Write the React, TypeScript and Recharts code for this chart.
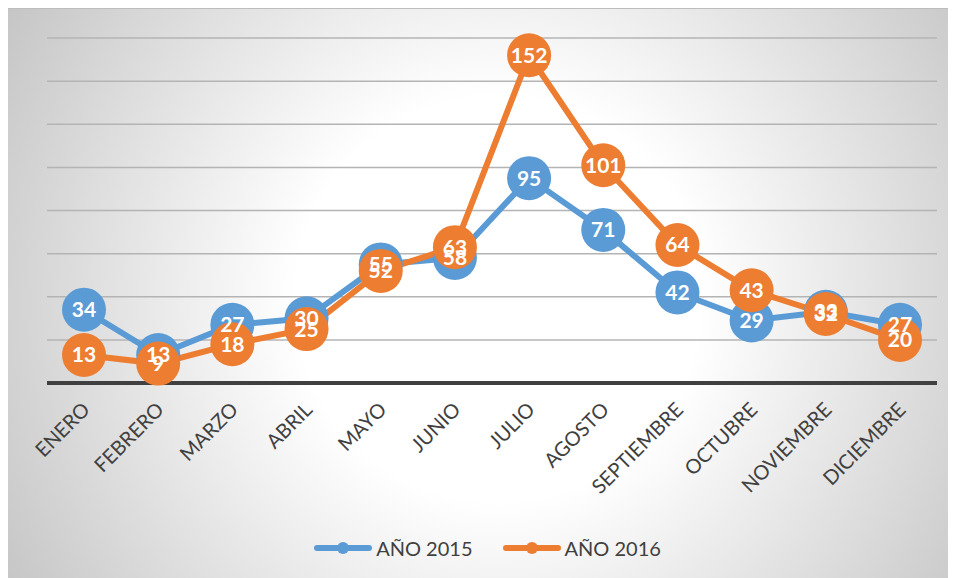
import React from "react";
import { LineChart, Line, XAxis, YAxis, CartesianGrid, LabelList } from "recharts";

const months = ["ENERO", "FEBRERO", "MARZO", "ABRIL", "MAYO", "JUNIO", "JULIO", "AGOSTO", "SEPTIEMBRE", "OCTUBRE", "NOVIEMBRE", "DICIEMBRE"];
const values2015 = [34, 13, 27, 30, 55, 58, 95, 71, 42, 29, 33, 27];
const values2016 = [13, 9, 18, 25, 52, 63, 152, 101, 64, 43, 32, 20];
const yTicks = [0, 20, 40, 60, 80, 100, 120, 140, 160];
const seriesNames = ["AÑO 2015", "AÑO 2016"];

const BLUE = "#5b9bd5";
const ORANGE = "#ed7d31";
const FONT = "Lato, 'Open Sans', sans-serif";

const data = months.map((m, i) => ({ month: m, a: values2015[i], b: values2016[i] }));

const Tick = (props: any) => {
  const { x, y, payload } = props;
  return (
    <g transform={`translate(${x + 7},${y + 20}) rotate(-45)`}>
      <text x={0} y={0} textAnchor="end" fontSize={20} fill="#404040" fontFamily={FONT}>
        {payload.value}
      </text>
    </g>
  );
};

const LegendItem = ({ color, label }: { color: string; label: string }) => (
  <div style={{ display: "flex", alignItems: "center", marginRight: 30 }}>
    <svg width={58} height={14} style={{ marginRight: 4 }}>
      <line x1={3} y1={7} x2={55} y2={7} stroke={color} strokeWidth={6} strokeLinecap="round" />
      <circle cx={29} cy={7} r={6} fill={color} />
    </svg>
    <span style={{ fontSize: 20, color: "#404040", fontFamily: FONT }}>{label}</span>
  </div>
);

export default function App() {
  return (
    <div
      style={{
        position: "relative",
        width: 948,
        height: 570,
        marginLeft: -1,
        borderTop: "1px solid #bdbdbd",
        borderLeft: "1px solid #bdbdbd",
        boxSizing: "border-box",
        background: "radial-gradient(circle 580px at 490px 290px, #ffffff 0%, #ffffff 35%, #c4c4c4 100%)",
        overflow: "hidden",
      }}
    >
      <LineChart width={947} height={569} data={data} margin={{ top: 29, right: 18, left: 39, bottom: 85 }}>
        <CartesianGrid horizontal vertical={false} stroke="#b4b4b4" strokeWidth={1.5} />
        <YAxis hide domain={[0, 160]} ticks={yTicks} />
        <XAxis
          dataKey="month"
          axisLine={{ stroke: "#404040", strokeWidth: 4 }}
          tickLine={false}
          tick={<Tick />}
          interval={0}
          height={110}
          padding={{ left: 37, right: 37 }}
        />
        <Line
          dataKey="a"
          name={seriesNames[0]}
          stroke={BLUE}
          strokeWidth={6}
          dot={{ r: 22, fill: BLUE, stroke: "none", strokeWidth: 0 }}
          activeDot={false}
          isAnimationActive={false}
        />
        <Line
          dataKey="b"
          name={seriesNames[1]}
          stroke={ORANGE}
          strokeWidth={6}
          dot={{ r: 22, fill: ORANGE, stroke: "none", strokeWidth: 0 }}
          activeDot={false}
          isAnimationActive={false}
        >
          <LabelList dataKey="b" position="center" fill="#ffffff" fontSize={21} fontWeight="bold" fontFamily={FONT} />
        </Line>
        <Line
          dataKey="a"
          stroke="none"
          dot={false}
          activeDot={false}
          legendType="none"
          isAnimationActive={false}
        >
          <LabelList dataKey="a" position="center" fill="#ffffff" fontSize={21} fontWeight="bold" fontFamily={FONT} />
        </Line>
      </LineChart>
      <div
        style={{
          position: "absolute",
          top: 527,
          left: 0,
          width: "100%",
          display: "flex",
          justifyContent: "center",
          paddingLeft: 42,
          boxSizing: "border-box",
        }}
      >
        <LegendItem color={BLUE} label={seriesNames[0]} />
        <LegendItem color={ORANGE} label={seriesNames[1]} />
      </div>
    </div>
  );
}
